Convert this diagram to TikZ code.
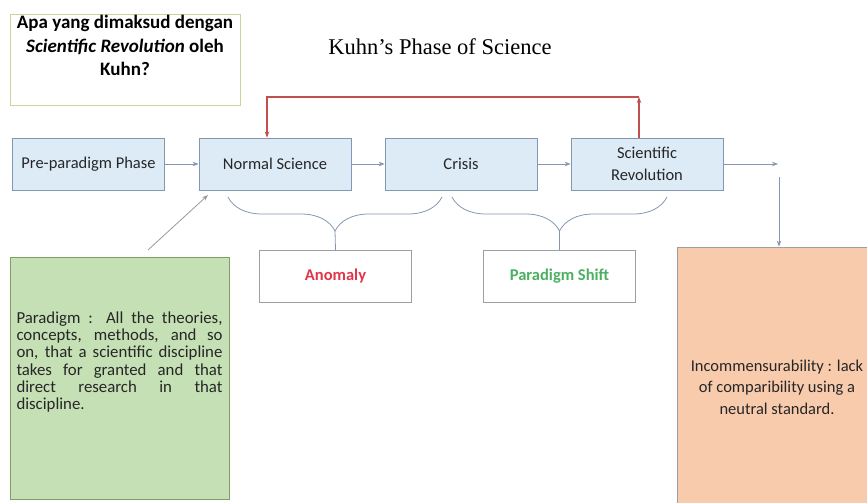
\documentclass[tikz,border=0pt]{standalone}
\usepackage{fontspec}
\setmainfont{Carlito}
\newfontfamily\timesfont{Liberation Serif}
\usepackage{xcolor}
\usetikzlibrary{arrows.meta,decorations.pathreplacing}

\definecolor{garisbiru}{HTML}{8497B0}
\definecolor{isibiru}{HTML}{DDEBF7}
\definecolor{merahgaris}{HTML}{C0504D}
\definecolor{merahteks}{HTML}{E0354B}
\definecolor{hijauteks}{HTML}{4CB061}
\definecolor{hijauisi}{HTML}{C5E0B4}
\definecolor{hijaugaris}{HTML}{809E66}
\definecolor{judulgaris}{HTML}{C4D79B}
\definecolor{oranyeisi}{HTML}{F8CBAD}

\begin{document}
\begin{tikzpicture}[x=1pt, y=-1pt,
    fase/.style={draw=garisbiru, fill=isibiru, line width=0.8pt, minimum width=152pt,
        minimum height=52pt, align=center, inner sep=2pt, text=black!85, font=\fontsize{16.5}{22}\selectfont},
    hasil/.style={fase, fill=white, draw=gray!75, font=\fontsize{16.5}{22}\selectfont\bfseries},
    panah/.style={draw=garisbiru, line width=0.8pt, -{Stealth[length=6pt,width=4.5pt]}},
    kurung/.style={draw=garisbiru, line width=0.8pt, decorate, decoration={brace, mirror, amplitude=34pt}}]
        \clip (0,0) rectangle (867,503);
        % Pertanyaan (kiri atas)
        \node[draw=judulgaris, line width=0.8pt, minimum width=230pt, minimum height=91pt] (tanya) at (125,59.5) {};
        \node[anchor=north, align=center, font=\fontsize{19}{23.5}\selectfont\bfseries] (tanyateks) at (125,12) {
            Apa yang dimaksud dengan\\
            \textit{Scientific Revolution} oleh\\
            Kuhn?
        };
        \node[font=\timesfont\fontsize{22.5}{27}\selectfont] (judul) at (440,47) {Kuhn’s Phase of Science};

        % Fase
        \node[fase] (pra) at (88.5,164) {Pre-paradigm Phase};
        \node[fase] (normal) at (275,164) {Normal Science};
        \node[fase] (krisis) at (461,164) {Crisis};
        \node[fase] (revolusi) at (647,164) {Scientific\\Revolution};
        \node[hasil, text=merahteks] (anomali) at (335.5,276.5) {Anomaly};
        \node[hasil, text=hijauteks] (pergeseran) at (559.5,276.5) {Paradigm Shift};

        \draw[panah] (pra) -- (normal);
        \draw[panah] (normal) -- (krisis);
        \draw[panah] (krisis) -- (revolusi);

        % Umpan balik (merah)
        \coordinate (atas) at (639,97);
        \draw[panah, draw=merahgaris, line width=1.1pt] ([xshift=-8pt]revolusi.north) -- (atas);
        \draw[panah, draw=merahgaris, line width=1.1pt] (atas) -| ([xshift=-8pt]normal.north);

        % Kurung kurawal
        \coordinate (k1a) at (228,197);
        \coordinate (k1b) at (442,197);
        \coordinate (k1) at (335,231);
        \coordinate (k2a) at (452,197);
        \coordinate (k2b) at (667,197);
        \coordinate (k2) at (559.5,231);
        \draw[kurung] (k1a) -- (k1b);
        \draw[kurung] (k2a) -- (k2b);
        \draw[draw=garisbiru, line width=0.8pt] (k1) -- (anomali.north);
        \draw[draw=garisbiru, line width=0.8pt] (k2) -- (pergeseran.north);

        % Paradigma (kiri bawah)
        \node[draw=hijaugaris, fill=hijauisi, line width=0.8pt, minimum width=219pt, minimum height=242pt] (paradigma) at (119.5,378) {};
        \node[text width=206pt, align=justify, text=black!85] (paradigmateks) at ([yshift=16pt]paradigma.center) {%
            \fontsize{16.8}{17.2}\selectfont
            Paradigm : All the theories,\linebreak
            concepts, methods, and so\linebreak
            on, that a scientific discipline\linebreak
            takes for granted and that\linebreak
            direct research in that\linebreak
            discipline.\par
        };
        \coordinate (pkaki) at (148,250);
        \coordinate (pujung) at (208,195);
        \draw[panah, draw=gray!80] (pkaki) -- (pujung);

        % Inkomensurabilitas (kanan bawah)
        \node[draw=gray!75, fill=oranyeisi, line width=0.8pt, minimum width=200pt, minimum height=280pt,
            align=center, text=black!85, font=\fontsize{16.5}{21.5}\selectfont] (inkom) at (777,387) {
            Incommensurability : lack\\
            of comparibility using a\\
            neutral standard.
        };
        \coordinate (kanan) at (778,164);
        \coordinate (turun) at (779,177);
        \draw[panah] (revolusi) -- (kanan);
        \draw[panah] (turun) -- (turun |- inkom.north);
    \end{tikzpicture}
\end{document}
